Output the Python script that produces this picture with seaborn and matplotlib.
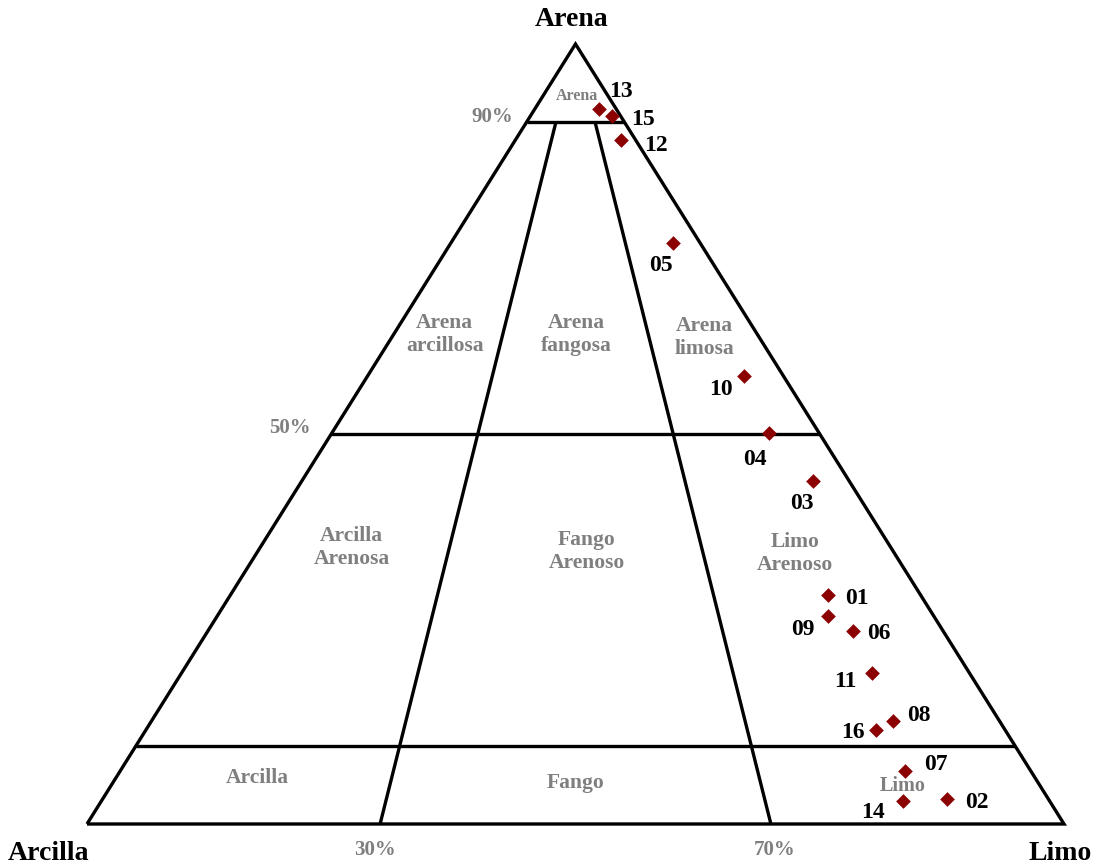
import numpy as np
import pandas as pd
import matplotlib
matplotlib.use("Agg")
import matplotlib.pyplot as plt
import seaborn as sns

# Sample identifiers and grain-size fractions (%)
muestras = ["13", "15", "12", "05", "10", "04", "03", "01",
            "09", "06", "11", "08", "16", "07", "14", "02"]
arena = [91.7, 90.8, 87.7, 74.5, 57.4, 50.1, 44.0, 29.3,
         26.7, 24.8, 19.3, 13.2, 12.1, 6.8, 3.0, 3.2]
limo = [6.6, 8.3, 10.8, 22.7, 38.5, 44.8, 52.3, 61.2,
        62.5, 66.0, 70.7, 75.9, 74.7, 80.3, 82.0, 86.4]
arcilla = [1.7, 0.9, 1.5, 2.8, 4.1, 5.1, 3.7, 9.5,
           10.8, 9.2, 10.0, 10.9, 13.2, 12.9, 15.0, 10.4]

# Class limits of the diagram
limites_arena = [10, 50, 90]          # % arena
limites_ratio = [30, 70]              # % limo / (limo + arcilla)

# Class names
clases = ["Arena", "Arena\narcillosa", "Arena\nfangosa", "Arena\nlimosa",
          "Arcilla\nArenosa", "Fango\nArenoso", "Limo\nArenoso",
          "Arcilla", "Fango", "Limo"]

sns.set_theme(style="white")
plt.rcParams["font.family"] = ["Liberation Serif", "DejaVu Serif"]
plt.rcParams["font.weight"] = "bold"
plt.rcParams["text.color"] = "black"


def tern(a, l):
    """Sand/silt fractions (0-1) -> planar coordinates."""
    a = np.asarray(a, dtype=float)
    l = np.asarray(l, dtype=float)
    return l + a / 2.0, a


df = pd.DataFrame({"muestra": muestras, "arena": arena,
                   "limo": limo, "arcilla": arcilla})
tot = df[["arena", "limo", "arcilla"]].sum(axis=1)
df["x"], df["y"] = tern(df["arena"] / tot, df["limo"] / tot)

fig = plt.figure(figsize=(10.96, 8.67), dpi=100)
ax = fig.add_axes([87 / 1096, 43 / 867, 977 / 1096, 780 / 867])
ax.set_xlim(0, 1)
ax.set_ylim(0, 1)
ax.axis("off")

lw = 2.4
line_kw = dict(color="black", lw=lw, solid_capstyle="butt", clip_on=False)

# Outer triangle
tx, ty = tern([0, 0, 1, 0], [0, 1, 0, 0])
ax.plot(tx, ty, solid_joinstyle="miter", **line_kw)

# Horizontal sand limits
for p in limites_arena:
    a = p / 100
    x0, y0 = tern([a, a], [0, 1 - a])
    ax.plot(x0, y0, **line_kw)

# Silt/clay ratio limits (from the base up to the 90 % sand line)
for r in limites_ratio:
    q = r / 100
    a_top = limites_arena[-1] / 100
    x0, y0 = tern([0, a_top], [q, q * (1 - a_top)])
    ax.plot(x0, y0, **line_kw)

# Samples
sns.scatterplot(data=df, x="x", y="y", marker="D", s=56, color="#8b0000",
                linewidth=0, ax=ax, zorder=5, clip_on=False, legend=False)

offsets = {"13": (22, 17), "15": (31, -4), "12": (35, -6), "05": (-12, -23),
           "10": (-23, -13), "04": (-14, -26), "03": (-11, -23), "01": (29, -3),
           "09": (-25, -14), "06": (26, -3), "11": (-27, -8), "08": (26, 6),
           "16": (-23, -3), "07": (31, 6), "14": (-30, -12), "02": (30, -3)}
for _, row in df.iterrows():
    ax.annotate(row["muestra"], (row["x"], row["y"]),
                xytext=offsets[row["muestra"]], textcoords="offset pixels",
                ha="center", va="center", fontsize=17, fontweight="bold",
                color="black", annotation_clip=False)

# Class names (positions as sand %, silt %, font size)
gris = "#7f7f7f"
pos_clases = [(93.3, 3.5, 11.5), (62.8, 5.2, 15.5), (62.8, 18.65, 15.5),
              (62.4, 32.0, 15.5), (35.4, 9.4, 15.5), (34.9, 33.7, 15.5),
              (34.7, 55.1, 15.5), (5.9, 14.45, 15.5), (5.26, 47.4, 15.5),
              (4.87, 81.0, 14.5)]
for nombre, (pa, pl, fs) in zip(clases, pos_clases):
    x0, y0 = tern(pa / 100, pl / 100)
    ax.text(x0, y0, nombre, ha="center", va="center", fontsize=fs,
            fontweight="bold", color=gris, linespacing=1.2)

# Percentage marks
marcas_arena = {90: (-14, 5), 50: (-20, 6)}
for p, off in marcas_arena.items():
    x0, y0 = tern(p / 100, 0)
    ax.annotate(f"{p}%", (x0, y0), xytext=off, textcoords="offset pixels",
                ha="right", va="center", fontsize=15, fontweight="bold",
                color=gris, annotation_clip=False)
marcas_ratio = {30: (-5, -26), 70: (4, -26)}
for r, off in marcas_ratio.items():
    x0, y0 = tern(0, r / 100)
    ax.annotate(f"{r}%", (x0, y0), xytext=off, textcoords="offset pixels",
                ha="center", va="center", fontsize=15, fontweight="bold",
                color=gris, annotation_clip=False)

# Vertex names
ax.annotate("Arena", tern(1, 0), xytext=(-4, 25), textcoords="offset pixels",
            ha="center", va="center", fontsize=20, fontweight="bold",
            color="black", annotation_clip=False)
ax.annotate("Arcilla", tern(0, 0), xytext=(-39, -29), textcoords="offset pixels",
            ha="center", va="center", fontsize=20, fontweight="bold",
            color="black", annotation_clip=False)
ax.annotate("Limo", tern(0, 1), xytext=(-4, -29), textcoords="offset pixels",
            ha="center", va="center", fontsize=20, fontweight="bold",
            color="black", annotation_clip=False)

fig.savefig("out.png", dpi=100, facecolor="white")
